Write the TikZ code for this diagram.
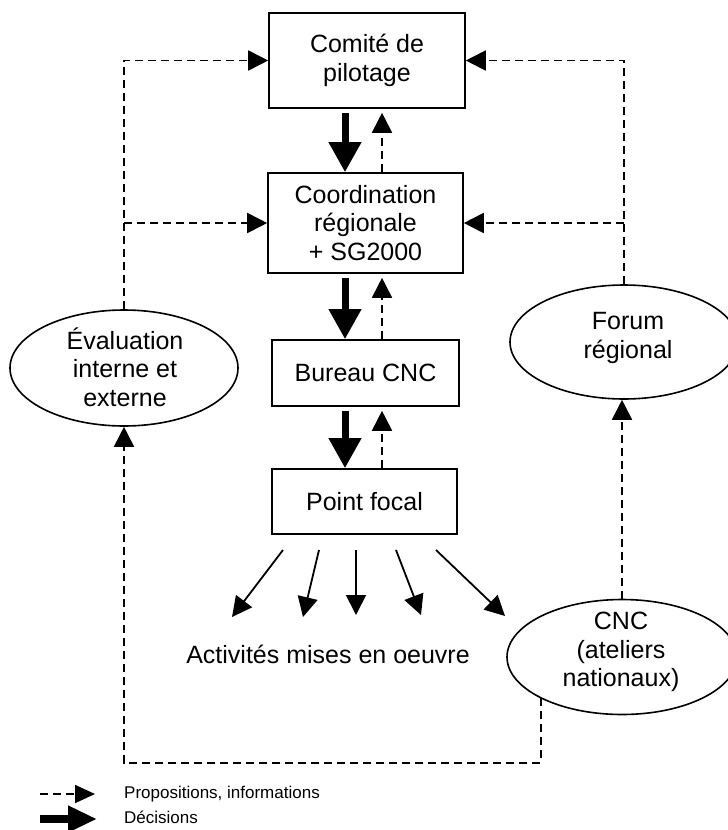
\documentclass[tikz,border=0pt]{standalone}
\usepackage{fontspec}
\setmainfont{Liberation Sans}
\usetikzlibrary{arrows.meta,shapes.geometric,calc}
\begin{document}
\begin{tikzpicture}[x=1pt,y=-1pt,
  txt/.style={font=\fontsize{25}{28.5}\selectfont,align=center,inner sep=0pt},
  box/.style={txt,draw,line width=1.6pt},
  oval/.style={draw,ellipse,line width=1.6pt,inner sep=0pt},
  info/.style={line width=1.8pt,dash pattern=on 8pt off 5pt,-{Triangle[length=20pt,width=20pt]}},
  decis/.style={line width=7pt,-{Triangle[length=30pt,width=31pt]}},
  fan/.style={line width=1.8pt,-{Triangle[length=20pt,width=20pt]}},
  legtxt/.style={font=\fontsize{17}{20}\selectfont,inner sep=0pt,anchor=base west}]
\useasboundingbox (0,0) rectangle (728,830);
% boxes
\node[box,minimum width=196pt,minimum height=95pt] (comite) at (367,60.5) {Comité de\\pilotage};
\node[box,minimum width=195pt,minimum height=100pt] (coord) at (365.5,223) {Coordination\\régionale\\+ SG2000};
\node[box,minimum width=187pt,minimum height=66pt] (bureau) at (365.5,373) {Bureau CNC};
\node[box,minimum width=185pt,minimum height=65pt] (point) at (364.5,501.5) {Point focal};
% ellipses
\node[oval,minimum width=228pt,minimum height=116pt] (eval) at (124,368) {};
\node[txt] (evaltxt) at (125,367) {Évaluation\\interne et\\externe};
\node[oval,minimum width=228pt,minimum height=114pt] (forum) at (624,342) {};
\node[txt] (forumtxt) at (628,338) {Forum\\régional};
\node[oval,minimum width=230pt,minimum height=115pt] (cnc) at (622,657) {};
\node[txt] (cnctxt) at (621,652) {CNC\\(ateliers\\nationaux)};
% activities
\node[txt,anchor=base] (act) at (328,663) {Activités mises en oeuvre};
% vertical links
\coordinate (dx) at (345,0);
\coordinate (ux) at (382,0);
\draw[decis] ([yshift=-4pt]comite.south -| dx) -- (coord.north -| dx);
\draw[info] (coord.north -| ux) -- ([yshift=-4pt]comite.south -| ux);
\draw[decis] ([yshift=-4pt]coord.south -| dx) -- (bureau.north -| dx);
\draw[info] (bureau.north -| ux) -- ([yshift=-4pt]coord.south -| ux);
\draw[decis] ([yshift=-4pt]bureau.south -| dx) -- (point.north -| dx);
\draw[info] (point.north -| ux) -- ([yshift=-4pt]bureau.south -| ux);
% left loop
\draw[info] (eval.north) |- (comite.west);
\draw[info] (eval.north |- coord.west) -- (coord.west);
% right loop
\draw[info] (forum.north) |- (comite.east);
\draw[info] (forum.north |- coord.east) -- (coord.east);
\draw[info] (cnc.north) -- (cnc.north |- forum.south);
% bottom loop
\coordinate (bot) at (0,763);
\draw[info] (cnc.207) -- (cnc.207 |- bot) -| (eval.south);
% fan
\coordinate (f1s) at (283,550); \coordinate (f1e) at (232,617);
\coordinate (f2s) at (319,550); \coordinate (f2e) at (303,617);
\coordinate (f3s) at (356,550); \coordinate (f3e) at (356,615);
\coordinate (f4s) at (396,550); \coordinate (f4e) at (421,615);
\coordinate (f5s) at (436,550); \coordinate (f5e) at (505,616);
\draw[fan] (f1s) -- (f1e);
\draw[fan] (f2s) -- (f2e);
\draw[fan] (f3s) -- (f3e);
\draw[fan] (f4s) -- (f4e);
\draw[fan] (f5s) -- (f5e);
% legend
\coordinate (l1a) at (40,794); \coordinate (l1b) at (95,794);
\coordinate (l2a) at (40,819); \coordinate (l2b) at (97,819);
\draw[line width=1.8pt,dash pattern=on 8pt off 5pt,-{Triangle[length=20pt,width=18pt]}] (l1a) -- (l1b);
\draw[line width=8pt,-{Triangle[length=29pt,width=25pt]}] (l2a) -- (l2b);
\node[legtxt] (leg1) at (124,798) {Propositions, informations};
\node[legtxt] (leg2) at (124,823) {Décisions};
\end{tikzpicture}
\end{document}
